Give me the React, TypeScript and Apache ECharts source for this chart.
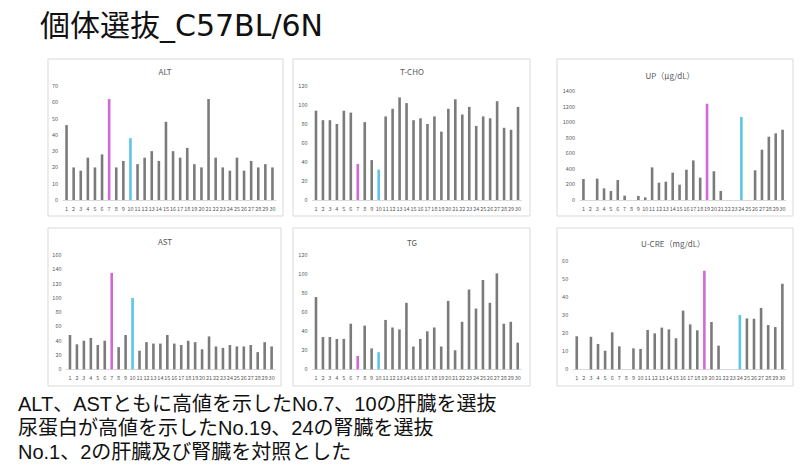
import React, {useEffect, useRef} from 'react';
import * as echarts from 'echarts';

// individual numbers 1..30
const mouseNos = Array.from({length: 30}, (_, i) => String(i + 1));

const altValues = [46, 20, 18, 26, 20, 28, 62, 20, 24, 38, 22, 26, 30, 24, 48, 30, 26, 32, 22, 20, 62, 26, 20, 18, 26, 18, 24, 20, 22, 20];
const tchoValues = [94, 84, 84, 80, 94, 92, 38, 82, 42, 32, 88, 96, 108, 102, 84, 86, 80, 88, 72, 96, 106, 90, 98, 78, 88, 86, 104, 76, 74, 98];
const upValues = [270, 0, 275, 150, 116, 257, 56, 0, 52, 34, 420, 223, 236, 352, 197, 390, 510, 288, 1240, 370, 116, 0, 0, 1070, 0, 382, 648, 815, 858, 905];
const astValues = [48, 35, 40, 44, 34, 40, 135, 31, 48, 100, 26, 38, 36, 36, 48, 36, 34, 40, 38, 28, 46, 32, 30, 34, 32, 32, 34, 24, 38, 32];
const tgValues = [76, 34, 34, 32, 32, 48, 14, 46, 22, 18, 52, 44, 42, 70, 24, 32, 40, 44, 24, 72, 20, 50, 84, 64, 94, 70, 101, 48, 50, 28];
const ucreValues = [18.3, 0, 18, 14, 10.3, 20.5, 12.7, 0, 11.6, 11.3, 21.8, 19.9, 23.1, 22.1, 17.2, 32.5, 24.9, 21.6, 54.6, 26.2, 13.1, 0, 0, 30.1, 28.2, 28, 34, 24.5, 23.4, 47.4];

// highlighted individuals (index of No.)
const liverPicks = [6, 9]; // No.7, No.10
const kidneyPicks = [18, 23]; // No.19, No.24

const pageTitle = '個体選抜_C57BL/6N';
const noteLines = [
    'ALT、ASTともに高値を示したNo.7、10の肝臓を選抜',
    '尿蛋白が高値を示したNo.19、24の腎臓を選抜',
    'No.1、2の肝臓及び腎臓を対照とした'
];

const GRAY = '#7b7b7b';
const PINK = '#d467d6';
const BLUE = '#5cc6e6';
const FONT = '"Noto Sans CJK JP", "Noto Sans", sans-serif';
// latin glyphs first so the line box stays compact, CJK falls back
const NOTE_FONT = '"Liberation Sans", "Noto Sans CJK JP", sans-serif';

const panels = [
    {title: 'ALT', values: altValues, max: 70, interval: 10, picks: liverPicks, grid: {left: 63, top: 86, width: 213, height: 114}, titleAt: [165, 71], box: [48, 59, 235, 157]},
    {title: 'T-CHO', values: tchoValues, max: 120, interval: 20, picks: liverPicks, grid: {left: 312.5, top: 86, width: 209, height: 114}, titleAt: [412, 71], box: [293, 59, 237, 157]},
    {title: 'UP（μg/dL）', values: upValues, max: 1400, interval: 200, picks: kidneyPicks, grid: {left: 580, top: 91.3, width: 206, height: 108.7}, titleAt: [670, 75], box: [557, 59, 236, 157]},
    {title: 'AST', values: astValues, max: 160, interval: 20, picks: liverPicks, grid: {left: 66.5, top: 255, width: 208.6, height: 114.3}, titleAt: [165, 241], box: [48, 228, 233, 158]},
    {title: 'TG', values: tgValues, max: 120, interval: 20, picks: liverPicks, grid: {left: 312.5, top: 255.3, width: 208.7, height: 114}, titleAt: [412, 242], box: [293, 228, 237, 158]},
    {title: 'U-CRE（mg/dL）', values: ucreValues, max: 60, interval: 10, picks: kidneyPicks, grid: {left: 573.2, top: 261, width: 212.7, height: 108.3}, titleAt: [673, 243], box: [557, 228, 236, 158]}
];

const App = () => {
    const ref = useRef<HTMLDivElement>(null);

    useEffect(() => {
        const chart = echarts.init(ref.current as HTMLDivElement, undefined, {renderer: 'svg'});

        const graphic: any[] = [];
        panels.forEach(p => {
            graphic.push({
                type: 'rect',
                shape: {x: p.box[0], y: p.box[1], width: p.box[2], height: p.box[3]},
                style: {fill: '#fff', stroke: '#d9d9d9', lineWidth: 1},
                z: -10
            });
            graphic.push({
                type: 'text',
                x: p.titleAt[0],
                y: p.titleAt[1],
                style: {text: p.title, align: 'center', verticalAlign: 'middle', fontSize: 8, fill: '#595959', fontFamily: FONT}
            });
        });
        graphic.push({
            type: 'text',
            x: 40,
            y: 25,
            style: {text: pageTitle, verticalAlign: 'middle', fontSize: 30, fill: '#111', fontFamily: '"DejaVu Sans", "Noto Sans CJK JP", sans-serif'}
        });
        noteLines.forEach((line, i) => {
            graphic.push({
                type: 'text',
                x: 18,
                y: [404, 428, 452][i],
                style: {text: line, verticalAlign: 'middle', fontSize: 20, lineHeight: 22, fill: '#111', fontFamily: NOTE_FONT}
            });
        });

        chart.setOption({
            animation: false,
            backgroundColor: '#fff',
            textStyle: {fontFamily: FONT},
            grid: panels.map(p => ({...p.grid})),
            xAxis: panels.map((p, i) => ({
                type: 'category',
                gridIndex: i,
                data: mouseNos,
                axisLine: {lineStyle: {color: '#d9d9d9'}},
                axisTick: {show: false},
                axisLabel: {interval: 0, fontSize: 5.5, color: '#595959', margin: 6}
            })),
            yAxis: panels.map((p, i) => ({
                type: 'value',
                gridIndex: i,
                min: 0,
                max: p.max,
                interval: p.interval,
                axisLine: {show: false},
                axisTick: {show: false},
                splitLine: {show: false},
                axisLabel: {fontSize: 5.5, color: '#595959', margin: 5, formatter: (v: number) => String(v)}
            })),
            series: panels.map((p, i) => ({
                type: 'bar',
                xAxisIndex: i,
                yAxisIndex: i,
                barWidth: 2.6,
                itemStyle: {color: GRAY},
                data: p.values.map((v, k) => {
                    if (k === p.picks[0]) return {value: v, itemStyle: {color: PINK}};
                    if (k === p.picks[1]) return {value: v, itemStyle: {color: BLUE}};
                    return v;
                })
            })),
            graphic
        });

        return () => chart.dispose();
    }, []);

    return <div ref={ref} style={{position: 'fixed', left: 0, top: 0, width: 800, height: 464}} />;
};

export default App;
